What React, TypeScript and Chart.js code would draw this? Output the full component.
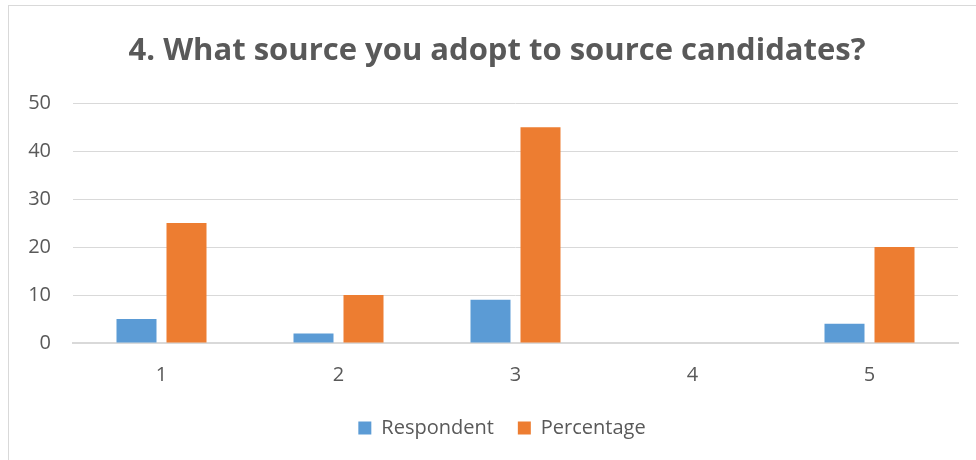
import React, { useEffect, useRef } from "react";
import { Chart, registerables } from "chart.js";

Chart.register(...registerables);

const categories = ["1", "2", "3", "4", "5"];
const respondent = [5, 2, 9, 0, 4];
const percentage = [25, 10, 45, 0, 20];
const titleText = "4. What source you adopt to source candidates?";

const shiftPlugin = {
  id: "shiftBoxes",
  afterLayout(chart: any) {
    if (chart.legend) { chart.legend.left += 23; chart.legend.right += 23; }
    if (chart.titleBlock) { chart.titleBlock.left += 18; chart.titleBlock.right += 18; }
  },
};

export default function App() {
  const ref = useRef<HTMLCanvasElement | null>(null);
  useEffect(() => {
    if (!ref.current) return;
    const chart = new Chart(ref.current, {
      type: "bar",
      data: {
        labels: categories,
        datasets: [
          { label: "Respondent", data: respondent, backgroundColor: "#5B9BD5", categoryPercentage: 0.565, barPercentage: 0.8 },
          { label: "Percentage", data: percentage, backgroundColor: "#ED7D31", categoryPercentage: 0.565, barPercentage: 0.8 },
        ],
      },
      plugins: [shiftPlugin],
      options: {
        responsive: false,
        animation: false,
        layout: { padding: { left: 0, right: 18, top: 0, bottom: 12 } },
        plugins: {
          title: {
            display: true,
            text: titleText,
            color: "#595959",
            font: { family: "'Open Sans', sans-serif", size: 31, weight: "bold" },
            padding: { top: 33, bottom: 33 },
          },
          legend: {
            position: "bottom",
            labels: {
              boxWidth: 13,
              boxHeight: 13,
              padding: 24,
              color: "#595959",
              font: { family: "'Open Sans', sans-serif", size: 20 },
            },
          },
          tooltip: { enabled: false },
        },
        scales: {
          x: {
            grid: { display: false, drawTicks: false },
            border: { color: "#d9d9d9", width: 2 },
            ticks: { color: "#595959", padding: 20, font: { family: "'Open Sans', sans-serif", size: 20 } },
            afterFit: (scale: any) => { scale.height -= 13; },
          },
          y: {
            min: 0,
            max: 50,
            ticks: { stepSize: 10, color: "#595959", padding: 22, font: { family: "'Open Sans', sans-serif", size: 20 } },
            grid: { color: "#d9d9d9", lineWidth: 1, drawTicks: false },
            border: { display: false },
            afterFit: (scale: any) => { scale.width = 73; },
          },
        },
      },
    });
    return () => chart.destroy();
  }, []);
  return (
    <div style={{ position: "fixed", left: 0, top: 0, width: 976, height: 460, background: "#fff", overflow: "hidden" }}>
      <div style={{ position: "absolute", left: 8, top: 5, width: 1000, height: 500, border: "1px solid #d9d9d9" }} />
      <canvas ref={ref} width={976} height={460} style={{ position: "absolute", left: 0, top: 0 }} />
    </div>
  );
}
